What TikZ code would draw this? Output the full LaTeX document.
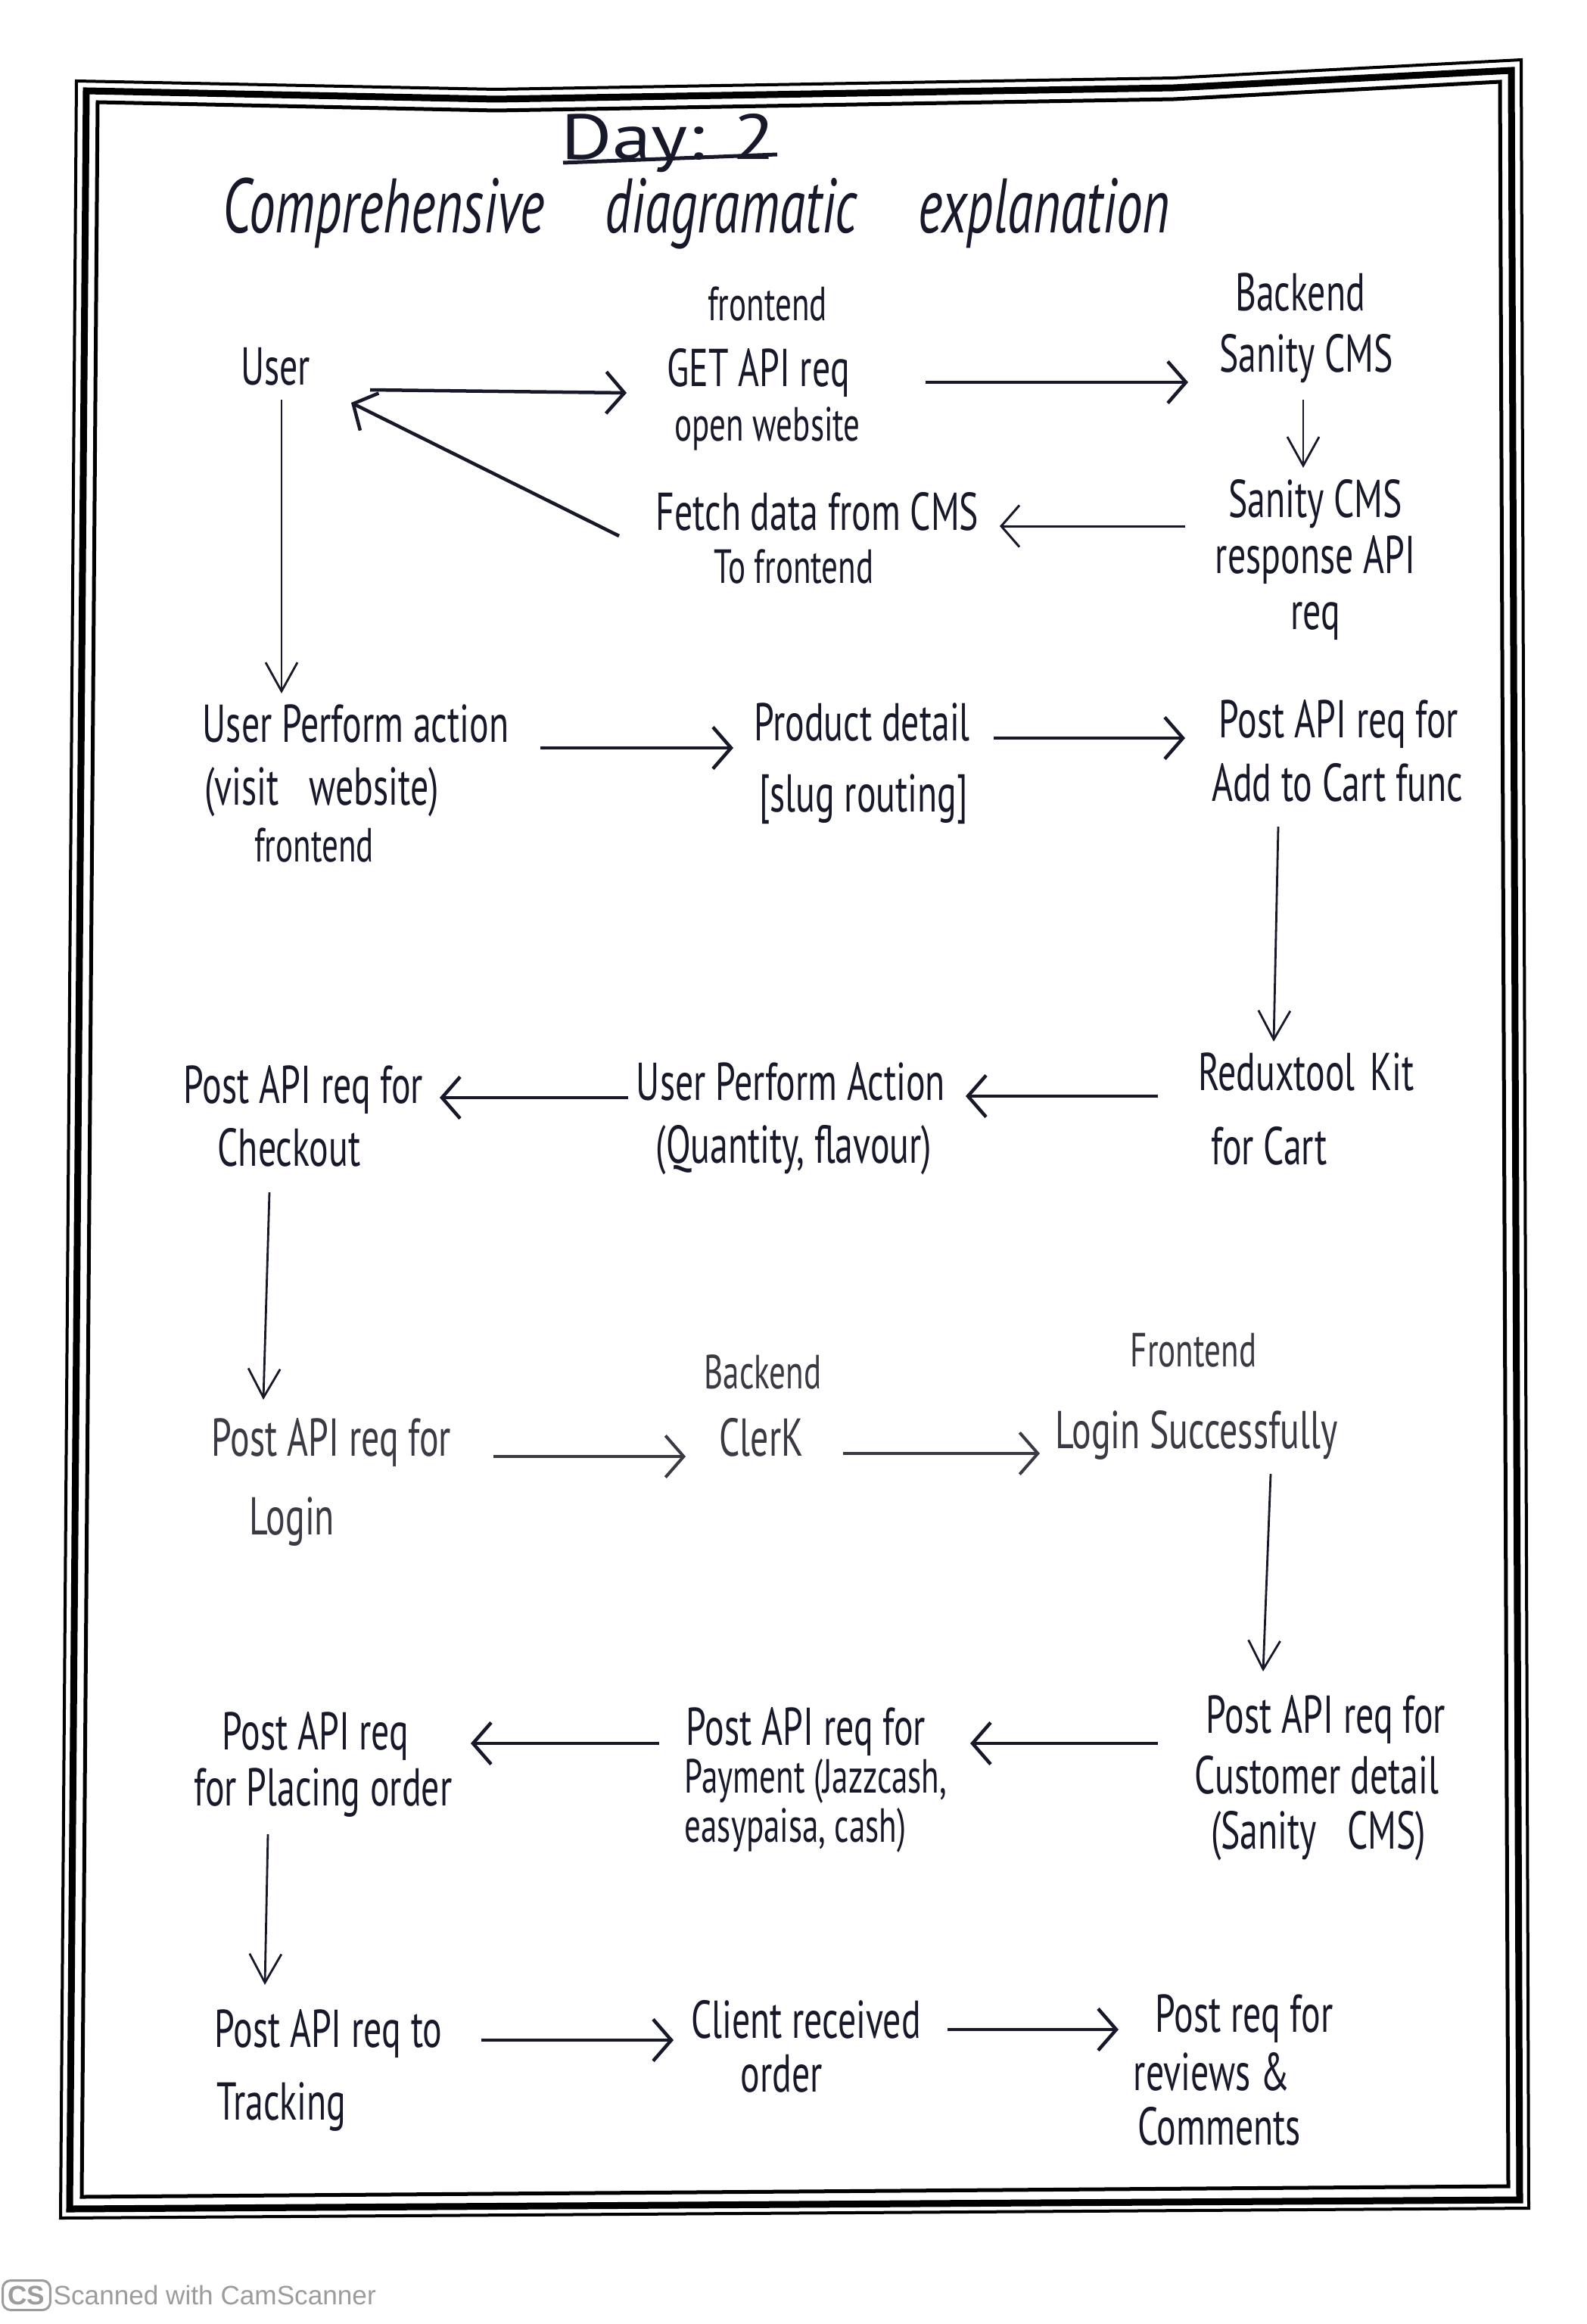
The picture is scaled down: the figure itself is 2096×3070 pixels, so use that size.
\documentclass[tikz,border=0pt]{standalone}
\usepackage{graphicx}
\usepackage{fontspec}
\setmainfont{PT Sans}[FakeStretch=0.68]
\newfontfamily\footfont{Liberation Sans}
\usetikzlibrary{arrows.meta,calc}
\definecolor{ink}{HTML}{17192A}
\definecolor{inklight}{HTML}{3A3A44}
\definecolor{footgray}{HTML}{9C9C9C}
\tikzset{
 txt/.style={inner sep=0pt, text=ink, font=\fontsize{20}{24}\selectfont, text height=13pt, text depth=4pt},
 sml/.style={txt, font=\fontsize{18}{22}\selectfont, text height=12pt, text depth=4pt},
 lite/.style={txt, text=inklight},
 litesml/.style={sml, text=inklight},
 arr/.style={draw=ink, line width=0.045cm, -{Straight Barb[length=0.24cm,width=0.55cm]}},
 varr/.style={draw=ink, line width=0.028cm, -{Straight Barb[length=0.38cm,width=0.42cm]}},
 larr/.style={arr, draw=inklight, line width=0.04cm},
 frameline/.style={draw=black, line join=miter},
}
\begin{document}
\begin{tikzpicture}[x=0.01cm,y=-0.01cm]
\useasboundingbox[fill=white] (0,0) rectangle (2096,3070);

% frame
\draw[frameline, line width=0.04cm] (101,107) -- (655,118) -- (1551,103) -- (2010,79) -- (2020,2917) -- (80,2930) -- cycle;
\draw[frameline, line width=0.09cm] (114,120) -- (655,131) -- (1551,116) -- (1997,93) -- (2008,2906) -- (92,2918) -- cycle;
\draw[frameline, line width=0.05cm] (129,135) -- (655,146) -- (1551,131) -- (1982,108) -- (1993,2888) -- (108,2902) -- cycle;

% title
\node[anchor=base, inner sep=0pt, text=ink, font=\fontsize{24}{28}\selectfont] (day) at (883,211) {\scalebox{1.8}[1]{Day: 2}};
\draw[ink, line width=0.05cm] ($(day.base)+(-139,4)$) -- ($(day.base)+(144,-7)$);
\node[inner sep=0pt, text=ink, font=\itshape\fontsize{29}{34}\selectfont] (title) at (920,282) {Comprehensive\hspace{0.8cm}diagramatic\hspace{0.8cm}explanation};

% row 1
\node[txt] (user) at (364,493) {User};
\node[sml] (fe1) at (1014,409) {frontend};
\node[txt] (get) at (1002,495) {GET API req};
\node[sml] (getsub) at (1014,568) {open website};
\node[txt] (be1) at (1718,395) {Backend};
\node[txt] (san) at (1726,476) {Sanity CMS};
\node[txt] (resp) at (1738,668) {Sanity CMS};
\node[txt] (resp2) at (1738,742) {response API};
\node[txt] (resp3) at (1738,816) {req};
\node[txt] (fetch) at (1080,685) {Fetch data from CMS};
\node[sml] (fetchsub) at (1049,756) {To frontend};

% row 2
\node[txt] (upa) at (470,965) {User Perform action};
\node[txt] (upa2) at (425,1048) {(visit\hspace{0.4cm}website)};
\node[sml] (upa3) at (415,1124) {frontend};
\node[txt] (prod) at (1139,963) {Product detail};
\node[txt] (prod2) at (1141,1057) {[slug routing]};
\node[txt] (postcart) at (1769,959) {Post API req for};
\node[txt] (postcart2) at (1767,1043) {Add to Cart func};

% row 3
\node[txt] (redux) at (1726,1425) {Reduxtool\hspace{0.2cm}Kit};
\node[txt] (redux2) at (1677,1523) {for Cart};
\node[txt] (upa4) at (1045,1438) {User Perform Action};
\node[txt] (upa5) at (1049,1521) {(Quantity, flavour)};
\node[txt] (checkout) at (401,1442) {Post API req for};
\node[txt] (checkout2) at (382,1525) {Checkout};

% row 4
\node[lite] (login) at (438,1908) {Post API req for};
\node[lite] (login2) at (386,2012) {Login};
\node[litesml] (be2) at (1008,1820) {Backend};
\node[lite] (clerk) at (1006,1908) {ClerK};
\node[litesml] (fe2) at (1577,1791) {Frontend};
\node[lite] (success) at (1581,1898) {Login Successfully};

% row 5
\node[txt] (cust) at (1752,2274) {Post API req for};
\node[txt] (cust2) at (1740,2354) {Customer detail};
\node[txt] (cust3) at (1742,2427) {(Sanity\hspace{0.4cm}CMS)};
\node[txt] (pay) at (1065,2290) {Post API req for};
\node[sml] (pay2) at (1078,2354) {Payment (Jazzcash,};
\node[sml] (pay3) at (1051,2419) {easypaisa, cash)};
\node[txt] (place) at (417,2296) {Post API req};
\node[txt] (place2) at (427,2370) {for Placing order};

% row 6
\node[txt] (track) at (434,2689) {Post API req to};
\node[txt] (track2) at (372,2785) {Tracking};
\node[txt] (client) at (1065,2677) {Client received};
\node[txt] (client2) at (1033,2748) {order};
\node[txt] (review) at (1644,2669) {Post req for};
\node[txt] (review2) at (1601,2746) {reviews \&};
\node[txt] (review3) at (1611,2818) {Comments};

% connectors
\draw[arr] ($(user)+(125,22)$) -- ($(get)+(-174,24)$);
\draw[arr] ($(get)+(221,10)$) -- ($(san)+(-156,29)$);
\draw[varr] ($(san)+(-4,52)$) -- ($(resp)+(-16,-50)$);
\draw[arr, line width=0.03cm] ($(resp)+(-172,27)$) -- ($(fetch)+(241,10)$);
\draw[arr] ($(fetch)+(-262,23)$) -- ($(user)+(100,39)$);
\draw[varr] ($(user)+(8,35)$) -- ($(upa)+(-98,-49)$);
\draw[arr] ($(upa)+(244,23)$) -- ($(prod)+(-170,25)$);
\draw[arr] ($(prod)+(174,12)$) -- ($(postcart)+(-203,16)$);
\draw[varr] ($(postcart2)+(-78,49)$) -- ($(redux)+(-43,-49)$);
\draw[arr] ($(redux)+(-196,23)$) -- ($(upa4)+(231,10)$);
\draw[arr] ($(upa4)+(-215,12)$) -- ($(checkout)+(180,8)$);
\draw[varr] ($(checkout2)+(-26,50)$) -- ($(login)+(-90,-59)$);
\draw[larr] ($(login)+(214,16)$) -- ($(clerk)+(-100,16)$);
\draw[larr] ($(clerk)+(108,12)$) -- ($(success)+(-207,22)$);
\draw[varr] ($(success)+(98,49)$) -- ($(cust)+(-83,-66)$);
\draw[arr] ($(cust)+(-222,29)$) -- ($(pay)+(217,13)$);
\draw[arr] ($(pay)+(-194,13)$) -- ($(place)+(205,7)$);
\draw[varr] ($(place2)+(-73,53)$) -- ($(track)+(-84,-67)$);
\draw[arr] ($(track)+(202,6)$) -- ($(client)+(-175,18)$);
\draw[arr] ($(client)+(187,4)$) -- ($(review)+(-166,12)$);

% footer
\node[draw=footgray, rounded corners=3pt, line width=0.03cm, text=footgray, inner sep=2pt, font=\footfont\bfseries\fontsize{10}{12}\selectfont] (cslogo) at (35,3032) {CS};
\node[anchor=west, inner sep=0pt, text=footgray, font=\footfont\fontsize{10}{12}\selectfont] (cstext) at (70,3032) {Scanned with CamScanner};
\end{tikzpicture}
\end{document}
